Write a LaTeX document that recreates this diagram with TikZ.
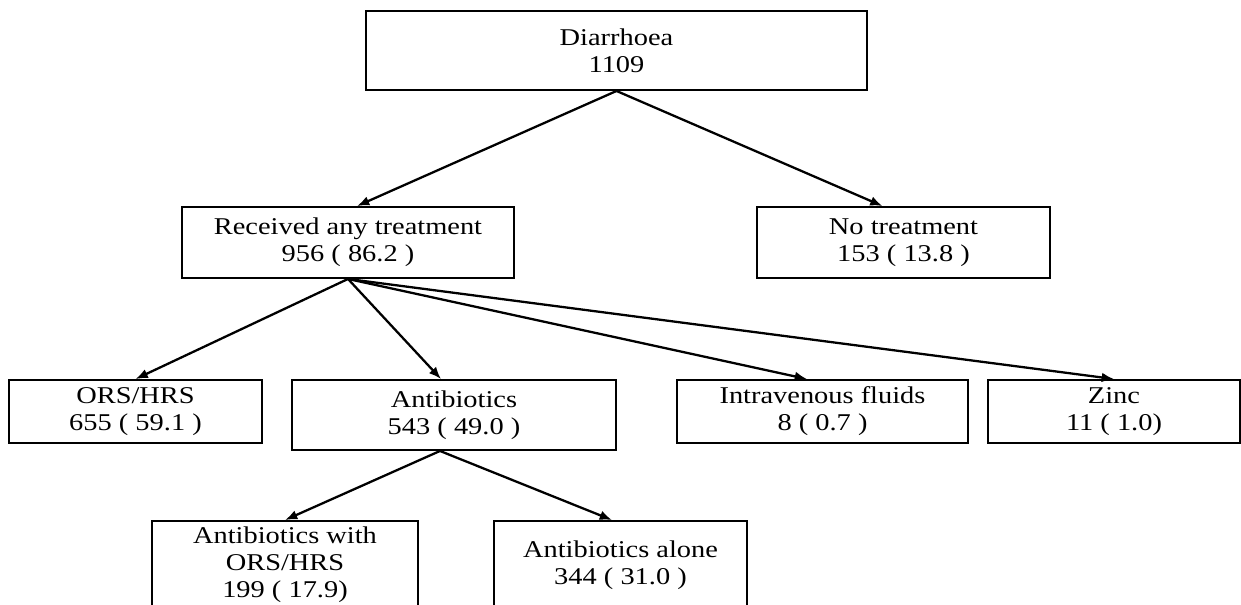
\documentclass[tikz,border=0pt]{standalone}
\usepackage{fontspec}
\setmainfont{Liberation Serif}[FakeStretch=1.18]
\usetikzlibrary{arrows.meta}

\tikzset{box/.style={draw,line width=1.1pt,align=center,inner sep=0pt,font=\fontsize{13.7}{15.4}\selectfont}}
\tikzset{link/.style={line width=1.3pt,-{Latex[length=7pt,width=5.5pt]}}}

\begin{document}
\begin{tikzpicture}[x=0.02cm,y=-0.02cm]

\useasboundingbox (0,0) rectangle (1241,605);
\clip (0,0) rectangle (1241,605);
\node [box,minimum width=10.02cm,minimum height=1.58cm] (diar) at (616.5,50.5) {Diarrhoea\\1109};
\node [box,minimum width=6.64cm,minimum height=1.42cm] (anytreat) at (348,242.5) {Received any treatment\\956 ( 86.2 )};
\node [box,minimum width=5.86cm,minimum height=1.42cm] (notreat) at (903.5,242.5) {No treatment\\153 ( 13.8 )};
\node [box,minimum width=5.06cm,minimum height=1.26cm] (ors) at (135.5,411.5) {ORS/HRS\\655 ( 59.1 )};
\node [box,minimum width=6.48cm,minimum height=1.40cm] (anti) at (454,415) {Antibiotics\\543 ( 49.0 )};
\node [box,minimum width=5.82cm,minimum height=1.26cm] (iv) at (822.5,411.5) {Intravenous fluids\\8 ( 0.7 )};
\node [box,minimum width=5.04cm,minimum height=1.26cm] (zinc) at (1114,411.5) {Zinc\\11 ( 1.0)};
\node [box,minimum width=5.32cm,minimum height=1.76cm] (abwith) at (285,565) {Antibiotics with\\ORS/HRS\\199 ( 17.9)};
\node [box,minimum width=5.06cm,minimum height=1.76cm] (abalone) at (620.5,565) {Antibiotics alone\\344 ( 31.0 )};

\draw [link] (diar.south) -- ([xshift=0.18cm]anytreat.north) ;
\draw [link] (diar.south) -- ([xshift=-0.42cm]notreat.north) ;
\draw [link] (anytreat.south) -- (ors.north) ;
\draw [link] (anytreat.south) -- ([xshift=-0.26cm]anti.north) ;
\draw [link] (anytreat.south) -- ([xshift=-0.31cm]iv.north) ;
\draw [link] (anytreat.south) -- (zinc.north) ;
\draw [link] ([xshift=-0.28cm]anti.south) -- (abwith.north) ;
\draw [link] ([xshift=-0.28cm]anti.south) -- ([xshift=-0.17cm]abalone.north) ;
\end{tikzpicture}
\end{document}
